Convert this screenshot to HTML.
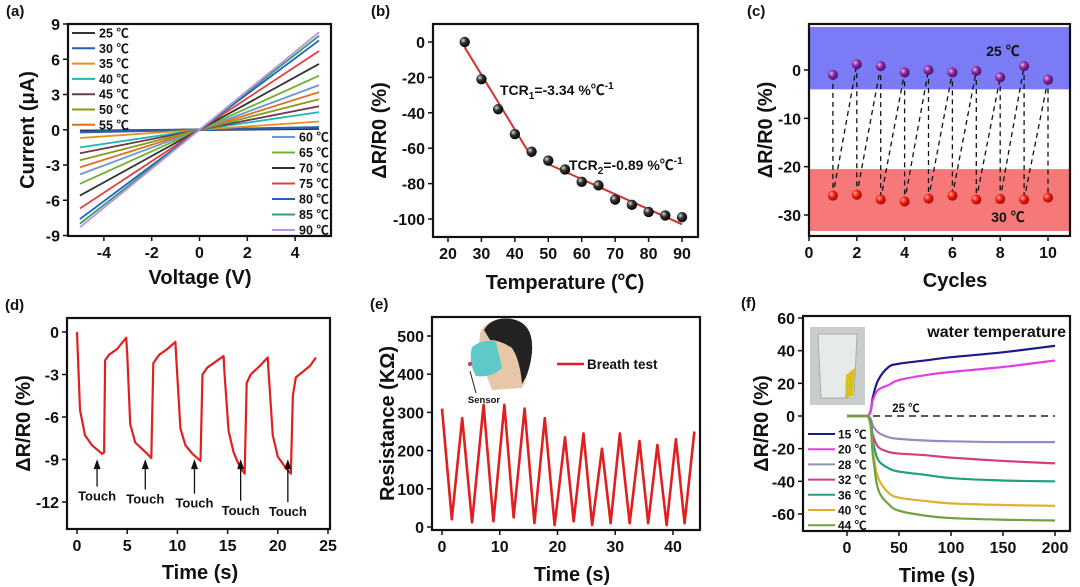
<!DOCTYPE html>
<html><head><meta charset="utf-8"><style>
html,body{margin:0;padding:0;background:#fff}
svg{display:block}
text{font-family:"Liberation Sans",Arial,"Noto Sans CJK SC",sans-serif;font-weight:bold;fill:#111}
</style></head><body>
<svg id="fig" width="1080" height="587" viewBox="0 0 1080 587" xmlns="http://www.w3.org/2000/svg">
<defs>
<radialGradient id="gBlack" cx="0.35" cy="0.35" r="0.7"><stop offset="0" stop-color="#ddd"/><stop offset="0.4" stop-color="#333"/><stop offset="1" stop-color="#000"/></radialGradient>
<radialGradient id="gPurple" cx="0.35" cy="0.35" r="0.7"><stop offset="0" stop-color="#e6b0f0"/><stop offset="0.45" stop-color="#8a2aa0"/><stop offset="1" stop-color="#4a0a60"/></radialGradient>
<radialGradient id="gRed" cx="0.35" cy="0.35" r="0.7"><stop offset="0" stop-color="#ffb0a0"/><stop offset="0.45" stop-color="#f02010"/><stop offset="1" stop-color="#a00000"/></radialGradient>
</defs>
</svg>
<script>
// ---------- data ----------
const aTemps=["25","30","35","40","45","50","55","60","65","70","75","80","85","90"];
const aCurrentAt5V=[0.1,0.2,0.7,1.5,2.0,2.6,3.2,3.8,4.6,5.6,6.7,7.6,8.0,8.3];
const aColors=["#333","#2b5fb0","#e69020","#20b8b0","#6b3b4b","#8a9a20","#e07020","#6a9ad0","#70b030","#333","#e04040","#2060c0","#30a070","#c090e0"];
const aXTicks=[-4,-2,0,2,4];
const aYTicks=[9,6,3,0,-3,-6,-9];

const bTemps=[25,30,35,40,45,50,55,60,65,70,75,80,85,90];
const bValues=[0,-21,-38,-52,-62,-67,-72,-79,-81,-89,-92,-96,-98,-99];
const bFit1=[[25,-3],[45,-65]];
const bFit2=[[50,-69],[90,-103]];
const bXTicks=[20,30,40,50,60,70,80,90];
const bYTicks=[0,-20,-40,-60,-80,-100];

const cCycles=[1,2,3,4,5,6,7,8,9,10];
const cHigh=[-1,1.2,0.8,-0.5,0,-0.5,-0.2,-1.5,0.8,-2];
const cLow=[-26,-25.8,-26.8,-27.2,-26.6,-26,-26.8,-26.7,-26.8,-26.4];
const cXTicks=[0,2,4,6,8,10];
const cYTicks=[0,-10,-20,-30];

const dTime=[0,0.3,0.8,1.5,2.5,2.7,2.8,3.2,4,4.9,5.0,5.3,5.8,7,7.4,7.6,8.2,9,9.8,9.9,10.3,10.8,11.5,12.3,12.5,13,14,14.6,14.7,15.1,15.6,16.2,16.7,16.9,17.3,18.2,19,19.1,19.5,20,20.8,21.3,21.5,21.8,22.5,23.2,23.8];
const dValue=[0,-5.5,-7.3,-8,-8.6,-8.5,-2,-1.6,-1.2,-0.4,-1.5,-6.5,-7.8,-8.6,-8.9,-2.2,-1.6,-1.2,-0.7,-2,-6.8,-8,-8.6,-9.1,-3,-2.5,-2,-1.7,-3,-7,-8.5,-9.5,-10,-3.6,-3,-2.4,-1.8,-3,-7.3,-8.8,-9.6,-10,-4.5,-3.2,-2.8,-2.4,-1.8];
const dTouchT=[2.0,6.8,11.7,16.3,21.0];
const dTouchY=[-11.9,-12.1,-12.4,-12.9,-13.0];
const dXTicks=[0,5,10,15,20,25];
const dYTicks=[0,-3,-6,-9,-12];

const eTime=[0,1.7,3.5,5.2,7.2,8.9,10.8,12.4,14.3,16,17.8,19.5,21.3,22.8,24.5,26,27.7,29.2,30.8,32.5,34.2,35.7,37.3,38.9,40.5,42.0,43.7];
const eRes=[310,20,285,12,320,15,320,25,310,10,285,5,235,15,245,5,205,10,245,10,225,10,215,5,230,10,250];
const eXTicks=[0,10,20,30,40];
const eYTicks=[0,100,200,300,400,500];

const fTime=[0,20,25,30,40,50,75,100,150,200];
const fLabels=["15","20","28","32","36","40","44"];
const f15=[0,0,12,22,30,32,34,36,39,43];
const f20=[0,0,10,16,19,22,25,27,30,34];
const f28=[0,0,-6,-10,-13,-14,-15,-15.5,-16,-16];
const f32=[0,0,-12,-19,-22,-23,-24,-25.5,-27.5,-29];
const f36=[0,0,-16,-27,-32,-34,-36,-38,-39.5,-40];
const f40=[0,0,-22,-38,-47,-50,-52,-53.5,-54.5,-55];
const f44=[0,0,-25,-45,-54,-58,-61,-62.5,-63.5,-64];
const fSeries=[f15,f20,f28,f32,f36,f40,f44];
const fColors=["#1a1a8a","#e040e0","#9090c0","#d04080","#20a080","#e0b030","#70a040"];
const fXTicks=[0,50,100,150,200];
const fYTicks=[60,40,20,0,-20,-40,-60];

// ---------- helpers ----------
const NS="http://www.w3.org/2000/svg";
const svg=document.getElementById('fig');
function mk(tag,attrs,parent,txt){const e=document.createElementNS(NS,tag);for(const k in attrs)e.setAttribute(k,attrs[k]);if(txt!==undefined)e.textContent=txt;(parent||svg).appendChild(e);return e;}
function lin(d0,d1,r0,r1){return v=>r0+(v-d0)*(r1-r0)/(d1-d0);}
function clamp(v,a,b){const lo=Math.min(a,b),hi=Math.max(a,b);return Math.max(lo,Math.min(hi,v));}
function smoothPath(pts){let d="M"+pts[0][0]+","+pts[0][1];for(let i=0;i<pts.length-1;i++){const p0=pts[Math.max(0,i-1)],p1=pts[i],p2=pts[i+1],p3=pts[Math.min(pts.length-1,i+2)];
  const c1x=p1[0]+(p2[0]-p0[0])/6,c2x=p2[0]-(p3[0]-p1[0])/6;
  const c1y=clamp(p1[1]+(p2[1]-p0[1])/6,p1[1],p2[1]),c2y=clamp(p2[1]-(p3[1]-p1[1])/6,p1[1],p2[1]);
  d+=" C"+c1x+","+c1y+" "+c2x+","+c2y+" "+p2[0]+","+p2[1];}return d;}

function axes(p){
  const g=mk('g',{});
  
  
  const pl=mk('text',{x:p.L-62,y:p.T-8,'font-size':15},g,'('+p.id+')');
  
  
  p.xt.forEach(v=>{const x=p.sx(v);
    const t=mk('line',{x1:x,x2:x,y1:p.B,y2:p.B+5,stroke:'#111','stroke-width':1.5},g);
    
    
    const l=mk('text',{x:x,y:p.B+22,'font-size':16,'text-anchor':'middle'},g,String(v));
    
    });
  p.yt.forEach(v=>{const y=p.sy(v);
    const t=mk('line',{x1:p.L-5,x2:p.L,y1:y,y2:y,stroke:'#111','stroke-width':1.5},g);
    
    
    const l=mk('text',{x:p.L-8,y:y+6,'font-size':16,'text-anchor':'end'},g,String(v));
    
    });
  const xt=mk('text',{x:p.xtx,y:p.xty,'font-size':20,'text-anchor':'middle'},g,p.xtitle);
  
  
  const yt=mk('text',{x:0,y:0,'font-size':20,'text-anchor':'middle',transform:'translate('+p.ytx+','+((p.T+p.B)/2)+') rotate(-90)'},g,p.ytitle);
  
  
  return g;
}
function frame(p,g){const f=mk('rect',{x:p.L,y:p.T,width:p.R-p.L,height:p.B-p.T,fill:'none',stroke:'#111','stroke-width':2.2},g);
  
  }

// ---------- panel a ----------
const PA={id:'a',L:68,R:331,T:24,B:236,sx:lin(-5.5,5.5,68,331),sy:lin(9,-9,24,235.5),xt:aXTicks,yt:aYTicks,xtitle:'Voltage (V)',xtx:200,xty:284,ytitle:'Current (\u03bcA)',ytx:34};
let g=axes(PA);
aTemps.forEach((t,i)=>{const k=aCurrentAt5V[i];
  const ln=mk('line',{x1:PA.sx(-5),y1:PA.sy(-k),x2:PA.sx(5),y2:PA.sy(k),stroke:aColors[i],'stroke-width':i<2?2.5:1.8},g);
  
  
  const left=i<7, row=left?i:i-7;
  const lx=left?72:272, ly=left?33+row*15.3:137+row*15.5;
  const ll=mk('line',{x1:lx,x2:lx+23,y1:ly,y2:ly,stroke:aColors[i],'stroke-width':2},g);
  
  
  const lt=mk('text',{x:lx+27,y:ly+4.5,'font-size':12.5},g,t+' \u2103');
  
  });
frame(PA,g);

// ---------- panel b ----------
const PB={id:'b',L:433,R:698,T:24,B:237,sx:lin(20,90,448,682),sy:lin(0,-100,42,219),xt:bXTicks,yt:bYTicks,xtitle:'Temperature (\u2103)',xtx:565,xty:289,ytitle:'\u0394R/R0 (%)',ytx:386};
g=axes(PB);
[bFit1,bFit2].forEach((f,i)=>{const l=mk('line',{x1:PB.sx(f[0][0]),y1:PB.sy(f[0][1]),x2:PB.sx(f[1][0]),y2:PB.sy(f[1][1]),stroke:'#d63030','stroke-width':2},g);
  
  });
bTemps.forEach((t,i)=>{const c=mk('circle',{cx:PB.sx(t),cy:PB.sy(bValues[i]),r:5.2,fill:'url(#gBlack)'},g);
  
  });
let tx=mk('text',{x:500,y:95,'font-size':14},g);


tx.innerHTML='TCR<tspan font-size="10" dy="4">1</tspan><tspan dy="-4">=-3.34 %\u2103</tspan><tspan font-size="10" dy="-6">-1</tspan>';
tx=mk('text',{x:569,y:170,'font-size':14},g);


tx.innerHTML='TCR<tspan font-size="10" dy="4">2</tspan><tspan dy="-4">=-0.89 %\u2103</tspan><tspan font-size="10" dy="-6">-1</tspan>';
frame(PB,g);

// ---------- panel c ----------
const PC={id:'c',L:809,R:1070,T:24,B:236,sx:lin(0,10,809,1048),sy:lin(0,-30,70,215),xt:cXTicks,yt:cYTicks,xtitle:'Cycles',xtx:955,xty:287,ytitle:'\u0394R/R0 (%)',ytx:772};
g=axes(PC);
let r=mk('rect',{x:PC.L,y:27,width:PC.R-PC.L,height:PC.sy(-4)-27,fill:'#7b7bf5'},g);


r=mk('rect',{x:PC.L,y:PC.sy(-20.5),width:PC.R-PC.L,height:PC.sy(-33.3)-PC.sy(-20.5),fill:'#f77878'},g);


cCycles.forEach((c,i)=>{
  const v=mk('line',{x1:PC.sx(c),y1:PC.sy(cHigh[i]),x2:PC.sx(c),y2:PC.sy(cLow[i]),stroke:'#111','stroke-width':1.3,'stroke-dasharray':'5,4'},g);
  
  
  if(i<cCycles.length-1){const d=mk('line',{x1:PC.sx(c),y1:PC.sy(cLow[i]),x2:PC.sx(cCycles[i+1]),y2:PC.sy(cHigh[i+1]),stroke:'#111','stroke-width':1.3,'stroke-dasharray':'5,4'},g);
  
  }});
cCycles.forEach((c,i)=>{
  const a=mk('circle',{cx:PC.sx(c),cy:PC.sy(cHigh[i]),r:5,fill:'url(#gPurple)'},g);
  
  
  const b=mk('circle',{cx:PC.sx(c),cy:PC.sy(cLow[i]),r:5,fill:'url(#gRed)'},g);
  
  });
tx=mk('text',{x:1003,y:56,'font-size':14,'text-anchor':'middle'},g,'25 \u2103');


tx=mk('text',{x:1008,y:222,'font-size':14,'text-anchor':'middle'},g,'30 \u2103');


frame(PC,g);

// ---------- panel d ----------
const PD={id:'d',L:67,R:330,T:318,B:529,sx:lin(0,25,77,328),sy:lin(0,-12,332,502),xt:dXTicks,yt:dYTicks,xtitle:'Time (s)',xtx:200,xty:579,ytitle:'\u0394R/R0 (%)',ytx:30};
g=axes(PD);
let pts=dTime.map((t,i)=>PD.sx(t)+','+PD.sy(dValue[i])).join(' ');
let pl=mk('polyline',{points:pts,fill:'none',stroke:'#e02020','stroke-width':2.2,'stroke-linejoin':'round'},g);


dTouchT.forEach((t,i)=>{const x=PD.sx(t),y=PD.sy(dTouchY[i]);
  const a=mk('line',{x1:x,y1:y-14,x2:x,y2:PD.sy(-8.9)+4,stroke:'#111','stroke-width':1.3},g);
  
  
  const h=mk('polygon',{points:(x-3.5)+','+(PD.sy(-8.9)+11)+' '+x+','+(PD.sy(-8.9)+1)+' '+(x+3.5)+','+(PD.sy(-8.9)+11),fill:'#111'},g);
  
  
  const l=mk('text',{x:x,y:y,'font-size':13,'font-weight':'normal','text-anchor':'middle'},g,'Touch');
  
  });
frame(PD,g);

// ---------- panel e ----------
const PE={id:'e',L:432,R:700,T:317,B:530,sx:lin(0,40,442,673),sy:lin(0,500,527,336),xt:eXTicks,yt:eYTicks,xtitle:'Time (s)',xtx:572,xty:581,ytitle:'Resistance (K\u03a9)',ytx:394};
g=axes(PE);
pts=eTime.map((t,i)=>PE.sx(t)+','+PE.sy(eRes[i])).join(' ');
pl=mk('polyline',{points:pts,fill:'none',stroke:'#e02020','stroke-width':2.6,'stroke-linejoin':'round'},g);


const face=mk('g',{},g);


mk('path',{d:'M480,333 Q486,318 508,320 Q532,323 532,350 Q530,372 522,388 L492,390 Q486,372 478,360 Z',fill:'#e8c6a8'},face);
mk('path',{d:'M484,330 Q492,316 512,319 Q534,323 532,352 Q530,372 522,384 Q520,360 512,348 Q500,340 490,340 Z',fill:'#222'},face);
mk('path',{d:'M472,347 Q484,338 496,342 L502,368 Q492,378 476,376 Q468,362 472,347 Z',fill:'#5fc8c8'},face);
mk('circle',{cx:470,cy:364,r:2.2,fill:'#d04060'},face);
mk('line',{x1:470,y1:371,x2:476,y2:393,stroke:'#222','stroke-width':1},face);
tx=mk('text',{x:484,y:403,'font-size':9.5,'text-anchor':'middle'},g,'Sensor');


let lg=mk('line',{x1:557,x2:584,y1:364,y2:364,stroke:'#e02020','stroke-width':2.4},g);


tx=mk('text',{x:587,y:369,'font-size':13.5},g,'Breath test');


frame(PE,g);

// ---------- panel f ----------
const PF={id:'f',L:803,R:1070,T:316,B:531,sx:lin(0,200,847,1055),sy:lin(60,-60,318,514),xt:fXTicks,yt:fYTicks,xtitle:'Time (s)',xtx:937,xty:582,ytitle:'\u0394R/R0 (%)',ytx:768};
g=axes(PF);
const ins=mk('g',{},g);


mk('rect',{x:810,y:327,width:55,height:78,fill:'#c9cccc'},ins);
mk('path',{d:'M818,334 L857,334 L854,398 L821,398 Z',fill:'#e6eaea',stroke:'#a8aeae'},ins);
mk('path',{d:'M846,375 L855,368 L853,396 L845,398 Z',fill:'#d8c020'},ins);
let dl=mk('line',{x1:PF.sx(25),x2:PF.sx(200),y1:PF.sy(0),y2:PF.sy(0),stroke:'#222','stroke-width':1.4,'stroke-dasharray':'7,5'},g);


tx=mk('text',{x:906,y:412,'font-size':11.5,'text-anchor':'middle'},g,'25 \u2103');


fSeries.forEach((s,i)=>{
  const path=mk('path',{d:smoothPath(fTime.map((t,j)=>[PF.sx(t),PF.sy(s[j])])),fill:'none',stroke:fColors[i],'stroke-width':2.2},g);
  
  
  const y=434+i*15.2;
  const ll=mk('line',{x1:808,x2:835,y1:y,y2:y,stroke:fColors[i],'stroke-width':2},g);
  
  
  const lt=mk('text',{x:838,y:y+4.5,'font-size':12},g,fLabels[i]+' \u2103');
  
  });
tx=mk('text',{x:1066,y:337,'font-size':16,'text-anchor':'end'},g,'water temperature');


frame(PF,g);
</script>
</body></html>
